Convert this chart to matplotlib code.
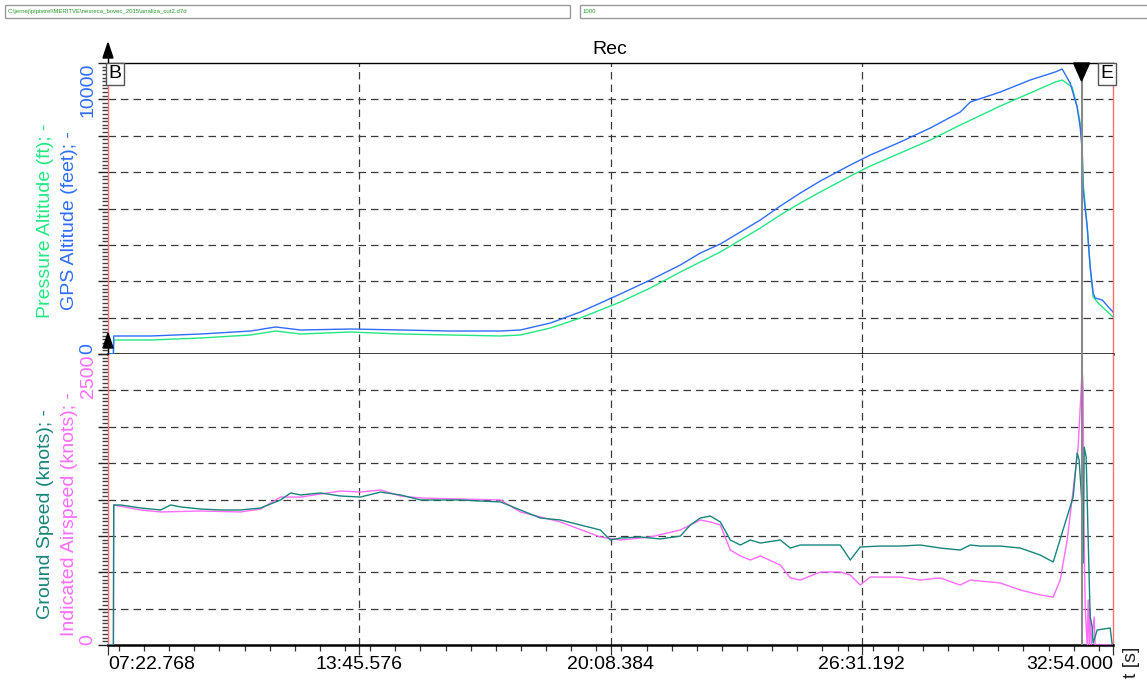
import matplotlib
matplotlib.use('Agg')
import matplotlib.pyplot as plt
from matplotlib.ticker import FixedLocator, MultipleLocator
import matplotlib.patches as mpatches
import matplotlib.lines as mlines

plt.rcParams['font.family'] = ['Liberation Sans', 'DejaVu Sans']

# ---------------- data ----------------
file_path = "C:\\jernej\\pipistrel\\MERITVE\\nesreca_bovec_2015\\analiza_cut2.d7d"
field2 = "1000"
title = "Rec"

t_start, t_end = 442.768, 1974.0
xtick_vals = [442.768, 825.576, 1208.384, 1591.192, 1974.0]
xtick_labels = ["07:22.768", "13:45.576", "20:08.384", "26:31.192", "32:54.000"]
cursor_t = 1926.1

alt_max = 10000
spd_max = 2500

gps_t = [442.8, 451.0, 451.5, 507.8, 583.9, 660.0, 698.1, 736.2, 812.3, 888.4, 964.5,
         1040.7, 1071.1, 1116.8, 1162.5, 1192.9, 1223.4, 1269.1, 1314.8, 1345.2, 1375.7,
         1406.2, 1436.6, 1467.1, 1497.6, 1528.0, 1573.7, 1604.2, 1649.9, 1695.5, 1741.2,
         1756.5, 1802.2, 1847.8, 1885.9, 1896.6, 1908.7, 1919.4, 1924.0, 1927.0, 1928.5,
         1934.7, 1939.2, 1943.8, 1946.8, 1957.5, 1974.0]
gps_alt = [0, 0, 619, 619, 687, 790, 928, 825, 859, 825, 790,
           790, 825, 1065, 1443, 1752, 2062, 2543, 3058, 3470, 3780,
           4192, 4604, 5085, 5532, 5944, 6494, 6838, 7284, 7765, 8315,
           8659, 9002, 9415, 9690, 9793, 9311, 8487, 7800, 7010, 5635,
           4364, 2989, 2096, 1924, 1855, 1443]

pa_t = [442.8, 451.0, 451.5, 507.8, 583.9, 660.0, 698.1, 736.2, 812.3, 888.4, 964.5,
        1040.7, 1071.1, 1116.8, 1162.5, 1192.9, 1223.4, 1269.1, 1314.8, 1345.2, 1375.7,
        1406.2, 1436.6, 1467.1, 1497.6, 1528.0, 1573.7, 1604.2, 1649.9, 1695.5, 1741.2,
        1802.2, 1847.8, 1885.9, 1896.6, 1911.8, 1919.4, 1924.0, 1927.0, 1928.5, 1934.7,
        1939.2, 1943.8, 1951.4, 1974.0]
pa_alt = [0, 0, 481, 481, 550, 653, 790, 687, 756, 687, 653,
          619, 653, 893, 1237, 1512, 1787, 2268, 2818, 3161, 3505,
          3917, 4329, 4776, 5188, 5566, 6116, 6460, 6906, 7353, 7868,
          8521, 8968, 9346, 9415, 9174, 8487, 7937, 7113, 5876, 4364,
          2989, 1959, 1752, 1271]

gs_t = [442.8, 451.0, 451.5, 462.1, 492.5, 523.0, 538.2, 553.5, 583.9, 614.4, 644.8,
        675.3, 705.7, 721.0, 736.2, 766.6, 797.1, 827.5, 858.0, 888.4, 918.9,
        949.3, 979.8, 1010.2, 1040.7, 1071.1, 1101.6, 1132.0, 1162.5, 1192.9, 1208.1,
        1223.4, 1253.8, 1284.3, 1314.8, 1330.0, 1345.2, 1360.5, 1375.7, 1390.9, 1406.2,
        1421.4, 1436.6, 1467.1, 1482.3, 1497.6, 1528.0, 1558.5, 1573.7, 1588.9, 1619.4,
        1649.9, 1680.3, 1710.8, 1741.2, 1756.5, 1771.7, 1802.2, 1832.6, 1863.1, 1882.9,
        1901.1, 1913.3, 1919.4, 1922.4, 1927.0, 1928.5, 1930.1, 1933.1, 1936.2, 1939.2,
        1942.3, 1943.8, 1949.9, 1969.7, 1972.8, 1974.0]
gs_val = [0, 0, 1203, 1203, 1177, 1160, 1203, 1186, 1168, 1160, 1160,
          1177, 1246, 1306, 1289, 1306, 1280, 1271, 1314, 1289, 1246,
          1246, 1246, 1237, 1229, 1160, 1091, 1074, 1031, 988, 902,
          919, 928, 911, 936, 1031, 1091, 1108, 1057, 902, 859,
          902, 876, 902, 833, 859, 859, 859, 730, 842, 850,
          850, 859, 833, 816, 859, 850, 850, 833, 773, 713,
          1048, 1271, 1649, 1589, 1186, 704, 1701, 1615, 902, 241,
          155, 17, 129, 146, 0, 0]

ias_t = [442.8, 451.0, 451.5, 492.5, 523.0, 583.9, 644.8, 675.3, 705.7, 736.2, 766.6,
         797.1, 827.5, 858.0, 888.4, 918.9, 979.8, 1040.7, 1071.1, 1132.0, 1192.9,
         1223.4, 1269.1, 1314.8, 1345.2, 1360.5, 1375.7, 1390.9, 1406.2, 1421.4, 1436.6,
         1467.1, 1482.3, 1497.6, 1528.0, 1558.5, 1573.7, 1588.9, 1604.2, 1649.9, 1680.3,
         1710.8, 1741.2, 1756.5, 1802.2, 1832.6, 1863.1, 1882.9, 1893.5, 1904.2, 1913.3,
         1920.9, 1927.0, 1928.5, 1929.3, 1931.6, 1934.7, 1936.2, 1937.7, 1939.2, 1940.8,
         1945.3, 1946.8, 1974.0]
ias_val = [0, 0, 1203, 1160, 1143, 1151, 1143, 1168, 1271, 1271, 1297,
           1323, 1314, 1332, 1280, 1263, 1254, 1246, 1143, 1057, 928,
           902, 928, 988, 1074, 1057, 1031, 816, 765, 730, 765,
           687, 576, 558, 627, 627, 601, 515, 584, 584, 558,
           576, 515, 558, 533, 473, 430, 412, 558, 902, 1332,
           1701, 2363, 2191, 1186, 326, 0, 387, 0, 301, 0,
           241, 0, 0]

# ---------------- style ----------------
C_GPS = '#2f6cff'
C_PA = '#22e882'
C_GS = '#16857a'
C_IAS = '#ff6cff'
C_RED = '#ff6f6f'
GRID = dict(color='#3a3a3a', lw=0.9, ls=(0, (6, 4)), zorder=1)

W, H = 1147, 681
fig = plt.figure(figsize=(W / 100, H / 100), dpi=100)
fig.patch.set_facecolor('white')

def fx(x):
    return x / W

def fy(y):
    return 1 - y / H

L, R = 108, 1113
T1, B1 = 63, 354
T2, B2 = 354, 645
ax1 = fig.add_axes([fx(L), fy(B1), (R - L) / W, (B1 - T1) / H])
ax2 = fig.add_axes([fx(L), fy(B2), (R - L) / W, (B2 - T2) / H])

for ax, ymax in ((ax1, alt_max), (ax2, spd_max)):
    ax.set_xlim(t_start, t_end)
    ax.set_ylim(0, ymax)
    step = ymax / 8
    ax.yaxis.set_major_locator(FixedLocator([step * i for i in range(9)]))
    ax.yaxis.set_minor_locator(MultipleLocator(step / 10))
    ax.tick_params(axis='y', which='major', length=7, width=1.0, color='#222222', labelleft=False)
    ax.tick_params(axis='y', which='minor', length=4, width=1.0, color='#444444')
    for i in range(1, 8):
        ax.axhline(step * i, **GRID)
    for xv in xtick_vals[1:-1]:
        ax.axvline(xv, **GRID)
    ax.xaxis.set_major_locator(FixedLocator(xtick_vals))
    ax.xaxis.set_minor_locator(MultipleLocator((xtick_vals[1] - xtick_vals[0]) / 10))
    ax.spines['left'].set_color(C_RED)
    ax.spines['left'].set_linewidth(1.0)
    ax.axvline(cursor_t, color='#8a8a8a', lw=1.5, zorder=4)

# top panel spines
ax1.spines['right'].set_visible(False)
ax1.spines['top'].set_color('black')
ax1.spines['top'].set_linewidth(1.0)
ax1.spines['bottom'].set_color('black')
ax1.spines['bottom'].set_linewidth(1.8)
ax1.tick_params(axis='x', which='both', length=0, labelbottom=False)
ax1.plot([1, 1], [0, (B1 - 85) / (B1 - T1)], transform=ax1.transAxes, color=C_RED, lw=1.0, clip_on=False)

# bottom panel spines
ax2.spines['top'].set_visible(False)
ax2.spines['right'].set_color(C_RED)
ax2.spines['right'].set_linewidth(1.0)
ax2.spines['bottom'].set_color('black')
ax2.spines['bottom'].set_linewidth(1.8)
ax2.set_xticklabels(xtick_labels)
ax2.tick_params(axis='x', which='major', length=7, width=0.9, color='#333333', labelsize=14, pad=1)
ax2.tick_params(axis='x', which='minor', length=4, width=0.9, color='#333333')
lbls = ax2.get_xticklabels()
lbls[0].set_ha('left')
lbls[-1].set_ha('right')

# data lines
ax1.plot(pa_t, pa_alt, color=C_PA, lw=1.0, zorder=3)
ax1.plot(gps_t, gps_alt, color=C_GPS, lw=1.0, zorder=3)
ax2.plot(ias_t, ias_val, color=C_IAS, lw=1.0, zorder=3)
ax2.plot(gs_t, gs_val, color=C_GS, lw=1.0, zorder=3)

# y range labels
lab_x = (88 - L) / (R - L)
ax1.text(lab_x, 1.0, f"{alt_max}", transform=ax1.transAxes, rotation=90, ha='center', va='top',
         color=C_GPS, fontsize=14)
ax1.text(lab_x, 0.0, "0", transform=ax1.transAxes, rotation=90, ha='center', va='bottom',
         color=C_GPS, fontsize=14)
ax2.text(lab_x, 1.0, f"{spd_max}", transform=ax2.transAxes, rotation=90, ha='center', va='top',
         color=C_IAS, fontsize=14)
ax2.text(lab_x, 0.0, "0", transform=ax2.transAxes, rotation=90, ha='center', va='bottom',
         color=C_IAS, fontsize=14)

# axis titles
fig.text(fx(46), fy(221), "Pressure Altitude (ft); -", rotation=90, ha='center', va='center', color=C_PA, fontsize=14)
fig.text(fx(69), fy(221), "GPS Altitude (feet); -", rotation=90, ha='center', va='center', color=C_GPS, fontsize=14)
fig.text(fx(46), fy(514), "Ground Speed (knots); -", rotation=90, ha='center', va='center', color=C_GS, fontsize=14)
fig.text(fx(69), fy(514), "Indicated Airspeed (knots); -", rotation=90, ha='center', va='center', color=C_IAS, fontsize=14)
fig.text(fx(1131), fy(662), "t [s]", rotation=90, ha='center', va='center', color='#222222', fontsize=14)

fig.text(fx(610), fy(50), title, ha='center', va='center', fontsize=14, color='black')

# header boxes
for (x0, x1), txt in (((5, 570), file_path), ((580, 1150), field2)):
    fig.add_artist(mpatches.Rectangle((fx(x0), fy(18)), (x1 - x0) / W, 13 / H, transform=fig.transFigure,
                                      facecolor='white', edgecolor='#9a9a9a', lw=1.0))
    fig.text(fx(x0 + 3), fy(11.5), txt, ha='left', va='center', fontsize=4.3, color='#2a9a2a')

# arrows at left
for ytop in (43, 333):
    tri = mpatches.Polygon([(fx(103), fy(ytop + 15)), (fx(113), fy(ytop + 15)), (fx(108), fy(ytop))],
                           closed=True, transform=fig.transFigure, facecolor='black', edgecolor='black')
    fig.add_artist(tri)
    fig.add_artist(mlines.Line2D([fx(108), fx(108)], [fy(ytop + 14), fy(ytop + 21)],
                                 transform=fig.transFigure, color='black', lw=1.0))

# cursor marker
cxf = fig.transFigure.inverted().transform(ax1.transData.transform((cursor_t, 0)))[0]
tri = mpatches.Polygon([(cxf - 8 / W, fy(63)), (cxf + 8 / W, fy(63)), (cxf, fy(81))],
                       closed=True, transform=fig.transFigure, facecolor='black', edgecolor='black', zorder=10)
fig.add_artist(tri)

# B / E boxes
box = dict(boxstyle='square,pad=0.12', facecolor='white', edgecolor='#555555', lw=1.0)
fig.text(fx(115), fy(74), "B", ha='center', va='center', fontsize=14, bbox=box, zorder=11)
fig.text(fx(1107), fy(74), "E", ha='center', va='center', fontsize=14, bbox=box, zorder=11)

fig.savefig('out.png', dpi=100, facecolor='white')
